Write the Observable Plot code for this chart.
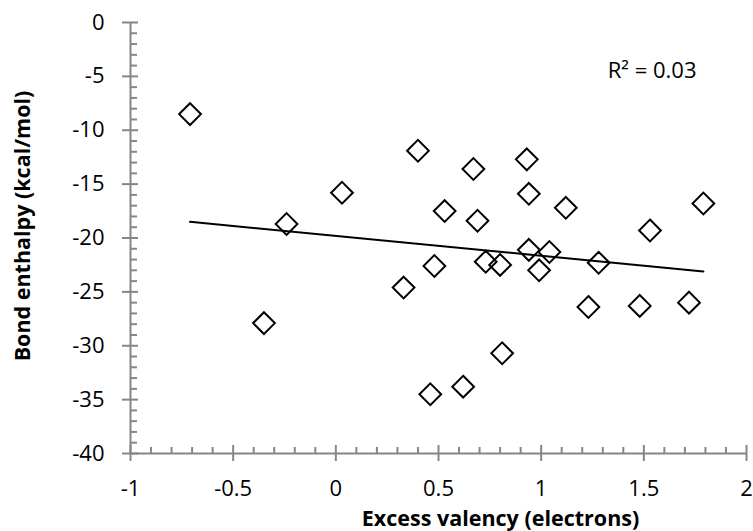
<!DOCTYPE html>
<html>
<head>
<meta charset="utf-8">
<script src="https://cdn.jsdelivr.net/npm/d3@7"></script>
<script src="https://cdn.jsdelivr.net/npm/@observablehq/plot@0.6"></script>
<style>
  html, body { margin: 0; padding: 0; background: #fff; }
</style>
</head>
<body>
<div id="chart"></div>
<script>
// Data
const excessValency = [-0.71, -0.35, -0.24, 0.03, 0.33, 0.40, 0.46, 0.48, 0.53, 0.62, 0.67, 0.69, 0.73, 0.80, 0.81, 0.93, 0.94, 0.94, 0.99, 1.04, 1.12, 1.23, 1.28, 1.48, 1.53, 1.72, 1.79];
const bondEnthalpy  = [-8.5, -27.9, -18.7, -15.8, -24.6, -11.9, -34.5, -22.6, -17.5, -33.8, -13.6, -18.4, -22.2, -22.5, -30.7, -12.7, -15.9, -21.1, -23.0, -21.3, -17.2, -26.4, -22.3, -26.3, -19.3, -26.0, -16.8];

// Linear trendline end points (as drawn in the reference)
const trendX = [-0.71, 1.79];
const trendY = [-18.5, -23.1];

// Axis ticks
const xTicks = [-1, -0.5, 0, 0.5, 1, 1.5, 2];
const yTicks = [0, -5, -10, -15, -20, -25, -30, -35, -40];
const xMinorTicks = [-0.9, -0.8, -0.7, -0.6, -0.4, -0.3, -0.2, -0.1, 0.1, 0.2, 0.3, 0.4, 0.6, 0.7, 0.8, 0.9, 1.1, 1.2, 1.3, 1.4, 1.6, 1.7, 1.8, 1.9];
const yMinorTicks = [-1, -2, -3, -4, -6, -7, -8, -9, -11, -12, -13, -14, -16, -17, -18, -19, -21, -22, -23, -24, -26, -27, -28, -29, -31, -32, -33, -34, -36, -37, -38, -39];

const xLabel = "Excess valency (electrons)";
const yLabel = "Bond enthalpy (kcal/mol)";
const r2Label = "R\u00B2 = 0.03";

const points = excessValency.map((x, i) => ({x, y: bondEnthalpy[i]}));
const trend = trendX.map((x, i) => ({x, y: trendY[i]}));

const W = 753, H = 531;
const mL = 130, mR = 7, mT = 22, mB = 78;
const plotW = W - mL - mR, plotH = H - mT - mB;
const gray = "#868686";
const font = "'Open Sans', 'Noto Sans', sans-serif";
const axisW = 2;
const fs = 22;
const titleFs = 21.5;

const chart = Plot.plot({
  width: W,
  height: H,
  marginLeft: mL,
  marginRight: mR,
  marginTop: mT,
  marginBottom: mB,
  style: {fontFamily: font, fontSize: fs + "px", color: "#000", background: "#fff"},
  x: {domain: [-1, 2], label: null},
  y: {domain: [-40, 0], label: null},
  marks: [
    // axis lines
    Plot.ruleX([-1], {stroke: gray, strokeWidth: axisW}),
    Plot.ruleY([-40], {stroke: gray, strokeWidth: axisW}),
    // y ticks (major cross the axis, minor inside)
    Plot.tickY(yTicks, {y: d => d, stroke: gray, strokeWidth: axisW, insetLeft: -8, insetRight: plotW - 8}),
    Plot.tickY(yMinorTicks, {y: d => d, stroke: gray, strokeWidth: axisW, insetLeft: 0, insetRight: plotW - 7}),
    // x ticks
    Plot.tickX(xTicks, {x: d => d, stroke: gray, strokeWidth: axisW, insetTop: plotH - 8, insetBottom: -8}),
    Plot.tickX(xMinorTicks, {x: d => d, stroke: gray, strokeWidth: axisW, insetTop: plotH - 6, insetBottom: 0}),
    // tick labels
    Plot.axisX(xTicks, {tickSize: 0, tickPadding: 27, tickFormat: d => String(d), fontSize: fs, fontFamily: font, fill: "#000", label: null}),
    Plot.axisY(yTicks, {tickSize: 0, tickPadding: 26, tickFormat: d => String(d), fontSize: fs, fontFamily: font, fill: "#000", label: null}),
    // trendline
    Plot.line(trend, {x: "x", y: "y", stroke: "#000", strokeWidth: 2}),
    // points
    Plot.dot(points, {x: "x", y: "y", symbol: "diamond2", r: 9.8, stroke: "#000", strokeWidth: 2, fill: "none"}),
    // R² annotation
    Plot.text([r2Label], {text: d => d, frameAnchor: "top-right", dx: -50, dy: 48, textAnchor: "end", lineAnchor: "middle", fontSize: fs, fontFamily: font, fill: "#000"}),
    // axis titles
    Plot.text([xLabel], {text: d => d, frameAnchor: "bottom", dx: 62, dy: 66, textAnchor: "middle", lineAnchor: "middle", fontSize: titleFs, fontWeight: "bold", fontFamily: font, fill: "#000"}),
    Plot.text([yLabel], {text: d => d, frameAnchor: "left", dx: -107, dy: -12, rotate: -90, textAnchor: "middle", lineAnchor: "middle", fontSize: titleFs, fontWeight: "bold", fontFamily: font, fill: "#000"})
  ]
});

document.getElementById("chart").appendChild(chart);
</script>
</body>
</html>
